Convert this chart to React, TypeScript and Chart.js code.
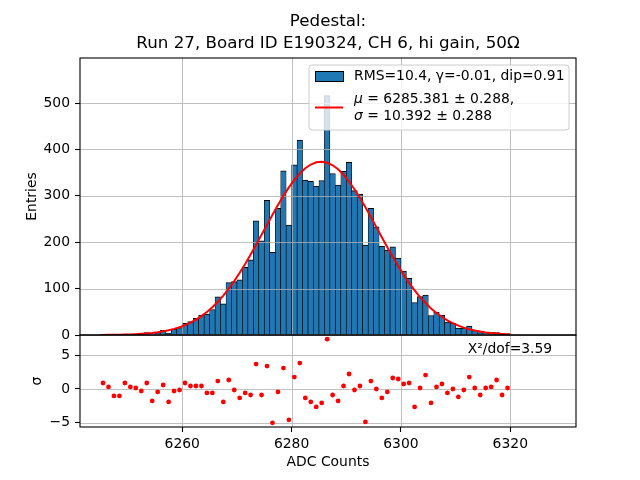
import React, { useEffect, useRef } from "react";
import { Chart, registerables } from "chart.js";

Chart.register(...registerables);

// ---------- data ----------
const TITLE_LINES = ["Pedestal:", "Run 27, Board ID E190324, CH 6, hi gain, 50Ω"];
const X_LABEL = "ADC Counts";
const Y_LABEL = "Entries";
const R_LABEL = "σ";

const BIN_FIRST = 6245; // left edge of the first 1-count wide bin
const COUNTS = [
  1, 1, 0, 0, 2, 2, 2, 2, 5, 1,
  5, 10, 4, 12, 16, 25, 29, 36, 43, 45,
  55, 82, 67, 113, 115, 119, 146, 162, 246, 203,
  290, 178, 273, 354, 237, 367, 420, 334, 331, 321,
  333, 516, 348, 323, 353, 372, 311, 303, 194, 273,
  233, 191, 183, 190, 166, 138, 122, 70, 83, 86,
  42, 49, 43, 28, 25, 15, 15, 19, 10, 5,
  6, 5, 5, 1, 2,
];
const RESIDUALS = [
  0.89, 0.3, -1.03, -1.03, 0.89, 0.3, 0.15, -0.3, 0.89, -1.77,
  -0.44, 0.59, -1.92, -0.3, -0.15, 0.89, 0.44, 0.44, 0.44, -0.59,
  -0.59, 1.18, -1.92, 1.33, -0.15, -1.33, -0.59, -0.89, 3.69, -0.89,
  3.4, -5.02, -0.44, 3.1, -4.58, 1.77, 3.84, -1.33, -1.92, -2.66,
  -2.07, 7.39, -0.89, -1.77, 0.44, 2.22, -0.15, 0.44, -4.88, 1.18,
  0, -1.33, -0.44, 1.63, 1.48, 0.74, 0.89, -2.66, 0.15, 2.07,
  -2.07, 0.3, 0.74, -0.59, 0, -1.18, -0.15, 1.77, 0.15, -0.89,
  0.15, 0.3, 1.33, -0.89, 0.15,
];
// fitted curve: value at the left edge, at every bin centre, and at the right edge
const FIT_VALUES = [
  0.197,
  0.237, 0.341, 0.486, 0.687, 0.963, 1.336, 1.838, 2.502, 3.378, 4.516,
  5.983, 7.852, 10.21, 13.16, 16.81, 21.26, 26.65, 33.08, 40.68, 49.6,
  59.91, 71.68, 85.01, 99.87, 116.2, 134.0, 153.1, 173.3, 194.3, 215.9,
  237.7, 259.2, 280.2, 300.0, 318.2, 334.5, 348.3, 359.4, 367.4, 372.2,
  373.5, 371.3, 365.8, 357.1, 345.3, 330.8, 314.1, 295.4, 275.3, 254.1,
  232.5, 210.7, 189.3, 168.4, 148.4, 129.6, 112.2, 96.18, 81.7, 68.77,
  57.34, 47.37, 38.77, 31.44, 25.27, 20.12, 15.87, 12.4, 9.603, 7.366,
  5.601, 4.22, 3.145, 2.328, 1.706,
  1.453,
];

const X_TICKS = [6260, 6280, 6300, 6320];
const Y_TICKS = [0, 100, 200, 300, 400, 500];
const R_TICKS = [-5, 0, 5];

const LEGEND_HIST = "RMS=10.4, γ=-0.01, dip=0.91";
const LEGEND_FIT = [
  ["μ", " = 6285.381 ± 0.288,"],
  ["σ", " = 10.392 ± 0.288"],
];
const CHI_TEXT = "Χ²/dof=3.59";

// ---------- styling ----------
const FONT = '"DejaVu Sans", "Liberation Sans", sans-serif';
const TICK_PX = 13.9;
const TITLE_PX = 16.7;
const BLUE = "#1f77b4";
const GRID = "#b0b0b0";

const binCenters = COUNTS.map((_, i) => BIN_FIRST + i + 0.5);
const fitX = [BIN_FIRST, ...binCenters, BIN_FIRST + COUNTS.length];

export default function App() {
  const ref = useRef<HTMLCanvasElement | null>(null);

  useEffect(() => {
    const canvas = ref.current;
    if (!canvas) return;

    const mplPlugin = {
      id: "mplLook",
      afterDatasetDraw(chart: any, args: any) {
        if (args.index !== 0) return;
        const { ctx, chartArea } = chart;
        const xs = chart.scales.x;
        const ys = chart.scales.y;
        const rs = chart.scales.y2;
        ctx.save();
        ctx.strokeStyle = GRID;
        ctx.lineWidth = 0.8;
        ctx.beginPath();
        for (const v of X_TICKS) {
          const px = Math.round(xs.getPixelForValue(v)) + 0.5;
          ctx.moveTo(px, chartArea.top);
          ctx.lineTo(px, chartArea.bottom);
        }
        for (const v of Y_TICKS) {
          const py = Math.round(ys.getPixelForValue(v)) + 0.5;
          ctx.moveTo(chartArea.left, py);
          ctx.lineTo(chartArea.right, py);
        }
        for (const v of R_TICKS) {
          const py = Math.round(rs.getPixelForValue(v)) + 0.5;
          ctx.moveTo(chartArea.left, py);
          ctx.lineTo(chartArea.right, py);
        }
        ctx.stroke();
        ctx.restore();
      },
      afterDraw(chart: any) {
        const { ctx, chartArea } = chart;
        const ys = chart.scales.y;
        const rs = chart.scales.y2;
        ctx.save();
        // frames of both panels
        ctx.strokeStyle = "#000";
        ctx.lineWidth = 1.1;
        ctx.strokeRect(chartArea.left, ys.top, chartArea.right - chartArea.left, ys.bottom - ys.top);
        ctx.strokeRect(chartArea.left, rs.top, chartArea.right - chartArea.left, rs.bottom - rs.top);

        ctx.fillStyle = "#000";
        // title
        ctx.font = `${TITLE_PX}px ${FONT}`;
        ctx.textAlign = "center";
        ctx.textBaseline = "middle";
        const cx = (chartArea.left + chartArea.right) / 2;
        ctx.fillText(TITLE_LINES[0], cx, 22);
        ctx.fillText(TITLE_LINES[1], cx, 44);

        // axis labels
        ctx.font = `${TICK_PX}px ${FONT}`;
        ctx.fillText(X_LABEL, cx, 462);
        ctx.save();
        ctx.translate(32, (ys.top + ys.bottom) / 2);
        ctx.rotate(-Math.PI / 2);
        ctx.fillText(Y_LABEL, 0, 0);
        ctx.restore();
        ctx.save();
        ctx.translate(37, (rs.top + rs.bottom) / 2);
        ctx.rotate(-Math.PI / 2);
        ctx.fillText(R_LABEL, 0, 0);
        ctx.restore();

        // chi2 text
        ctx.textAlign = "right";
        ctx.textBaseline = "middle";
        ctx.fillText(CHI_TEXT, chartArea.right - 0.05 * (chartArea.right - chartArea.left) + 1, rs.top + 14);

        // legend
        const lx = 309, ly = 65, lw = 260, lh = 65, r = 3;
        ctx.beginPath();
        ctx.moveTo(lx + r, ly);
        ctx.lineTo(lx + lw - r, ly);
        ctx.arcTo(lx + lw, ly, lx + lw, ly + r, r);
        ctx.lineTo(lx + lw, ly + lh - r);
        ctx.arcTo(lx + lw, ly + lh, lx + lw - r, ly + lh, r);
        ctx.lineTo(lx + r, ly + lh);
        ctx.arcTo(lx, ly + lh, lx, ly + lh - r, r);
        ctx.lineTo(lx, ly + r);
        ctx.arcTo(lx, ly, lx + r, ly, r);
        ctx.closePath();
        ctx.fillStyle = "rgba(255,255,255,0.8)";
        ctx.fill();
        ctx.strokeStyle = "#cccccc";
        ctx.lineWidth = 1;
        ctx.stroke();

        ctx.fillStyle = BLUE;
        ctx.fillRect(315, 71, 28, 10);
        ctx.strokeStyle = "#000";
        ctx.lineWidth = 1;
        ctx.strokeRect(315.5, 71.5, 28, 10);

        ctx.strokeStyle = "red";
        ctx.lineWidth = 2;
        ctx.beginPath();
        ctx.moveTo(315, 107.5);
        ctx.lineTo(343, 107.5);
        ctx.stroke();

        ctx.fillStyle = "#000";
        ctx.textAlign = "left";
        ctx.textBaseline = "middle";
        ctx.font = `${TICK_PX}px ${FONT}`;
        ctx.fillText(LEGEND_HIST, 354, 76);
        const rowsY = [99, 116];
        LEGEND_FIT.forEach((parts, i) => {
          ctx.font = `italic ${TICK_PX}px ${FONT}`;
          ctx.fillText(parts[0], 354, rowsY[i]);
          const w = ctx.measureText(parts[0]).width;
          ctx.font = `${TICK_PX}px ${FONT}`;
          ctx.fillText(parts[1], 354 + w, rowsY[i]);
        });
        ctx.restore();
      },
    };

    const tickFont = { family: FONT, size: TICK_PX };
    const yAfterFit = (s: any) => {
      s.width = 80;
    };

    const chart = new Chart(canvas, {
      type: "bar",
      data: {
        datasets: [
          {
            type: "bar",
            label: "hist",
            data: COUNTS.map((c, i) => ({ x: binCenters[i], y: c })),
            backgroundColor: BLUE,
            borderColor: "#000",
            borderWidth: { top: 1, left: 0.65, right: 0.65, bottom: 0 },
            borderSkipped: false,
            barPercentage: 1,
            categoryPercentage: 1,
            xAxisID: "x",
            yAxisID: "y",
            order: 3,
          } as any,
          {
            type: "line",
            label: "fit",
            data: FIT_VALUES.map((v, i) => ({ x: fitX[i], y: v })),
            borderColor: "red",
            borderWidth: 2,
            pointRadius: 0,
            tension: 0,
            fill: false,
            xAxisID: "x",
            yAxisID: "y",
            order: 1,
          } as any,
          {
            type: "scatter",
            label: "resid",
            data: RESIDUALS.map((v, i) => ({ x: binCenters[i], y: v })),
            backgroundColor: "red",
            borderColor: "red",
            pointRadius: 2.4,
            pointBorderWidth: 0,
            showLine: false,
            xAxisID: "x",
            yAxisID: "y2",
            order: 0,
          } as any,
        ],
      },
      options: {
        responsive: false,
        animation: false,
        events: [],
        layout: { padding: { top: 58, right: 64, bottom: 0, left: 0 } },
        plugins: {
          legend: { display: false },
          title: { display: false },
          tooltip: { enabled: false },
        },
        scales: {
          x: {
            type: "linear",
            position: "bottom",
            min: 6241.29,
            max: 6332.02,
            offset: false,
            grid: { offset: false, drawOnChartArea: false, tickLength: 5, tickColor: "#000", tickWidth: 1.1 },
            border: { display: false },
            ticks: {
              font: tickFont,
              color: "#000",
              padding: 4,
              maxRotation: 0,
              autoSkip: false,
              callback: (v: any) => String(v),
            },
            afterBuildTicks: (s: any) => {
              s.ticks = X_TICKS.map((v) => ({ value: v }));
            },
            afterFit: (s: any) => {
              s.height = 53;
            },
          },
          y: {
            type: "linear",
            position: "left",
            stack: "panels",
            stackWeight: 277,
            weight: 2,
            min: 0,
            max: 597,
            grid: { drawOnChartArea: false, tickLength: 5, tickColor: "#000", tickWidth: 1.1 },
            border: { display: false },
            ticks: { font: tickFont, color: "#000", padding: 5, callback: (v: any) => String(v) },
            afterBuildTicks: (s: any) => {
              s.ticks = Y_TICKS.map((v) => ({ value: v }));
            },
            afterFit: yAfterFit,
          },
          y2: {
            type: "linear",
            position: "left",
            stack: "panels",
            stackWeight: 92,
            weight: 1,
            min: -5.64,
            max: 8.01,
            grid: { drawOnChartArea: false, tickLength: 5, tickColor: "#000", tickWidth: 1.1 },
            border: { display: false },
            ticks: {
              font: tickFont,
              color: "#000",
              padding: 5,
              callback: (v: any) => (v < 0 ? "\u2212" + String(-v) : String(v)),
            },
            afterBuildTicks: (s: any) => {
              s.ticks = R_TICKS.map((v) => ({ value: v }));
            },
            afterFit: yAfterFit,
          },
        } as any,
      },
      plugins: [mplPlugin],
    });

    return () => {
      chart.destroy();
    };
  }, []);

  return (
    <div style={{ position: "fixed", left: 0, top: 0, width: 640, height: 480, background: "#fff" }}>
      <canvas ref={ref} width={640} height={480} style={{ display: "block" }} />
    </div>
  );
}
